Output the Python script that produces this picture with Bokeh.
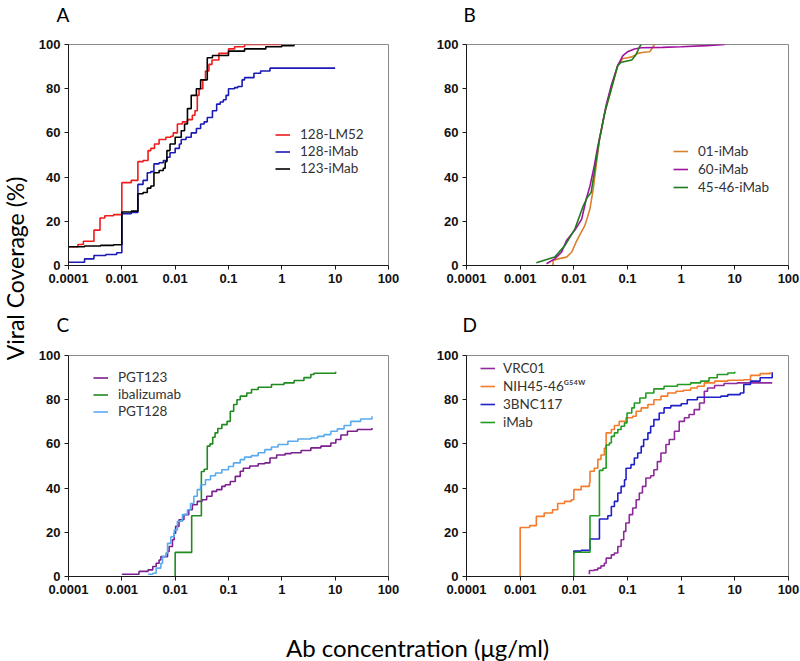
import math
from bokeh.plotting import figure
from bokeh.models import Range1d, FixedTicker, Label, Legend, LegendItem, Title
from bokeh.layouts import row, column
from bokeh.embed import file_html
from bokeh.resources import INLINE

# ---------------- axis ticks ----------------
x_ticks = [0.0001, 0.001, 0.01, 0.1, 1.0, 10.0, 100.0]
x_tick_labels = ["0.0001", "0.001", "0.01", "0.1", "1", "10", "100"]
y_ticks = [0, 20, 40, 60, 80, 100]

# ---------------- Panel A ----------------
a_names = ["128-LM52", "128-iMab", "123-iMab"]
a_lm52_x = [0.0001, 0.00015, 0.00019, 0.0003, 0.00039, 0.00048, 0.0007, 0.001, 0.0015, 0.002, 0.0025,
            0.0031, 0.0035, 0.0041, 0.005, 0.0067, 0.0083, 0.0092, 0.011, 0.0137, 0.017, 0.021, 0.0235,
            0.026, 0.028, 0.033, 0.037, 0.043, 0.049, 0.066, 0.1, 0.13, 0.2, 1.0]
a_lm52_y = [8.5, 9.5, 11, 16, 21.5, 22.5, 23, 37.5, 38.5, 47, 47.5, 52, 53, 55, 57, 58, 58.5, 60, 64,
            65, 66, 68, 70, 77, 80, 84, 88, 91, 93, 96, 98, 99, 100, 100]
a_128i_x = [0.0001, 0.0002, 0.0003, 0.0005, 0.0008, 0.001, 0.0015, 0.002, 0.0025, 0.003, 0.0035, 0.004,
            0.005, 0.006, 0.007, 0.008, 0.01, 0.012, 0.013, 0.016, 0.02, 0.025, 0.03, 0.035, 0.04, 0.05,
            0.06, 0.07, 0.08, 0.09, 0.1, 0.13, 0.15, 0.18, 0.2, 0.3, 0.4, 0.6, 10.0]
a_128i_y = [1.5, 3, 4.5, 5, 5.8, 23.4, 24, 36.7, 38.5, 42, 42.5, 46, 46.5, 47.5, 49, 51, 53, 55, 57, 58,
            60, 62, 64, 65, 67, 70, 73, 74, 75, 77, 80, 80.5, 81, 84, 85, 87, 88, 89.3, 89.3]
a_123i_x = [0.0001, 0.0002, 0.0004, 0.0007, 0.001, 0.0015, 0.002, 0.0025, 0.003, 0.0035, 0.004, 0.005,
            0.006, 0.0065, 0.007, 0.008, 0.01, 0.013, 0.015, 0.017, 0.02, 0.025, 0.03, 0.04, 0.05, 0.1,
            0.2, 0.5, 1.0, 1.7]
a_123i_y = [8.5, 8.8, 9.1, 9.4, 24.2, 24.6, 32.5, 33, 35, 36, 42, 43, 44, 47, 52, 55, 58, 61, 64, 71,
            77, 80, 84, 94, 95, 97, 98, 99, 99.5, 100]

# ---------------- Panel B ----------------
b_names = ["01-iMab", "60-iMab", "45-46-iMab"]
b_01_x = [0.0041, 0.0041, 0.0051, 0.0073, 0.0091, 0.011, 0.013, 0.016, 0.018, 0.02, 0.023, 0.026, 0.03,
          0.034, 0.038, 0.044, 0.05, 0.058, 0.066, 0.082, 0.1, 0.12, 0.156, 0.2, 0.26, 0.3, 0.32]
b_01_y = [0, 2.3, 3, 3.8, 6, 10.6, 14, 18, 22, 25.7, 34.7, 45, 57, 64, 69.5, 75, 80, 86, 90.6, 93.7,
          94, 94.4, 96, 96.5, 96.7, 99, 100]
b_60_x = [0.0031, 0.0044, 0.0059, 0.0073, 0.0104, 0.014, 0.017, 0.02, 0.024, 0.028, 0.033, 0.04, 0.05,
          0.066, 0.082, 0.1, 0.135, 0.18, 0.45, 1.0, 3.0, 6.5]
b_60_y = [0.8, 3, 6, 11.3, 15.9, 21, 30, 36, 45, 54, 62, 72.5, 81.6, 90.6, 95, 96.7, 98, 98.5, 98.7,
          99, 99.5, 100]
b_4546_x = [0.002, 0.0044, 0.0068, 0.0105, 0.015, 0.018, 0.021, 0.024, 0.03, 0.038, 0.05, 0.066, 0.077,
            0.12, 0.145, 0.168, 0.18]
b_4546_y = [1.2, 3.8, 9, 16.6, 27, 31, 33, 42, 57, 69.5, 80, 90.6, 92, 93, 95.5, 99, 100]

# ---------------- Panel C ----------------
c_names = ["PGT123", "ibalizumab", "PGT128"]
c_pgt123_x = [0.001, 0.002, 0.0021, 0.0031, 0.0038, 0.0044, 0.005, 0.0054, 0.0067, 0.0072, 0.0077,
              0.0089, 0.0096, 0.0102, 0.0118, 0.0146, 0.018, 0.021, 0.026, 0.032, 0.039, 0.049, 0.06,
              0.075, 0.087, 0.108, 0.134, 0.166, 0.19, 0.25, 0.36, 0.48, 0.6, 0.8, 1.15, 1.5, 2.3, 3.5,
              5.4, 8.3, 10.3, 12.8, 17, 26, 49]
c_pgt123_y = [1, 1, 2.3, 3, 4.5, 6, 7.5, 9, 9, 11.3, 13.6, 16.6, 19.6, 22.7, 25.7, 28, 30.2, 32.5, 34,
              34.7, 36.3, 38.5, 39.3, 40.8, 41.5, 43, 45.3, 47.6, 49, 50, 51, 51.4, 53.6, 55, 55.6, 56,
              57, 58.2, 59, 60.4, 62, 64, 65.7, 66.5, 67.2]
c_ibal_x = [0.01, 0.01, 0.0204, 0.031, 0.035, 0.04, 0.045, 0.0506, 0.056, 0.063, 0.075, 0.094, 0.108,
            0.125, 0.144, 0.166, 0.22, 0.27, 0.36, 0.64, 1.1, 1.7, 2.6, 3.5, 4.0, 10.2]
c_ibal_y = [0, 10.9, 27.5, 47.5, 48.5, 59, 60, 63, 65, 67, 68.7, 70.2, 74.8, 77.8, 80, 81.6, 83, 84.6,
            85.6, 86.9, 87.6, 88.7, 90, 91.4, 92, 92.6]
c_pgt128_x = [0.0031, 0.0038, 0.0044, 0.0054, 0.0058, 0.0067, 0.0072, 0.0083, 0.0096, 0.011, 0.0137,
              0.017, 0.0194, 0.0224, 0.026, 0.03, 0.037, 0.046, 0.057, 0.075, 0.1, 0.124, 0.166, 0.2,
              0.27, 0.36, 0.48, 0.64, 0.85, 1.3, 2.0, 3.5, 4.7, 6.2, 8.3, 11, 14.7, 19.6, 30, 49]
c_pgt128_y = [1, 1.5, 3.8, 6, 9, 10.6, 15, 18, 21, 25, 28, 30.2, 33, 36.3, 39.3, 41.5, 43.8, 45.6, 46.8,
              48.3, 49.8, 51.4, 52.9, 54, 54.7, 56, 57.4, 58.6, 59.7, 61.2, 62.2, 62.7, 63.4, 64.2, 65.7,
              66.8, 68.3, 70.2, 71.3, 72.5]

# ---------------- Panel D ----------------
d_names = ["VRC01", "NIH45-46\u1d33\u2075\u2074\u1d42", "3BNC117", "iMab"]
d_vrc01_x = [0.0195, 0.0195, 0.024, 0.028, 0.032, 0.037, 0.04, 0.05, 0.057, 0.066, 0.076, 0.085, 0.093,
             0.108, 0.125, 0.145, 0.166, 0.19, 0.22, 0.27, 0.31, 0.36, 0.42, 0.52, 0.6, 0.75, 0.92, 1.15,
             1.4, 1.75, 2.2, 2.7, 3.1, 4.2, 6.3, 11, 49.7]
d_vrc01_y = [1, 2.7, 3, 3.8, 4.8, 6, 8.3, 9.8, 10.6, 13.6, 16.6, 20.4, 24.2, 28, 31, 34.7, 37.8, 40.8,
             44.6, 45.6, 48.3, 52, 55.9, 59.7, 62, 65.7, 70.2, 71.8, 73.3, 75.5, 78.5, 83.8, 85.3, 86.4,
             87.3, 87.6, 87.6]
d_nih_x = [0.001, 0.001, 0.0015, 0.002, 0.0028, 0.004, 0.005, 0.0067, 0.009, 0.01, 0.0137, 0.0195, 0.02,
           0.024, 0.028, 0.032, 0.037, 0.04, 0.05, 0.057, 0.07, 0.094, 0.125, 0.145, 0.18, 0.24, 0.31,
           0.42, 0.56, 0.8, 1.1, 1.5, 2.0, 2.7, 4.2, 7.4, 14.7, 19.6, 29.6, 45.5]
d_nih_y = [0, 22.2, 23, 27.2, 28.7, 30.2, 33, 34, 34.7, 39.3, 40.8, 42.3, 47.6, 49, 53, 55, 58, 65, 66.5,
           68.3, 70.2, 71.8, 72.5, 74.8, 76.3, 77.8, 80, 81.6, 83, 83.8, 84.3, 85.3, 86.1, 87.6, 88.4,
           88.8, 89, 91, 91.8, 92.4]
d_3bnc_x = [0.01, 0.01, 0.0137, 0.0195, 0.02, 0.03, 0.043, 0.05, 0.057, 0.066, 0.076, 0.088, 0.094,
            0.116, 0.134, 0.155, 0.18, 0.2, 0.24, 0.27, 0.31, 0.39, 0.48, 0.64, 1.0, 1.3, 2.0, 3.1, 5.5,
            7.4, 12.6, 14.7, 19.6, 29.6, 49.7]
d_3bnc_y = [10, 11.5, 11.8, 12, 17, 26, 27.5, 31.7, 34, 37.8, 40.8, 43.8, 49, 50.6, 53.6, 55.9, 58.9, 62,
            65, 68, 71, 74, 76.3, 77.3, 78.2, 80, 81.1, 81.1, 81.6, 82.3, 83, 86.9, 88.4, 89.9, 92.4]
d_imab_x = [0.01, 0.01, 0.02, 0.03, 0.035, 0.04, 0.046, 0.05, 0.057, 0.066, 0.076, 0.088, 0.098, 0.12,
            0.134, 0.17, 0.22, 0.31, 0.48, 0.85, 1.5, 2.3, 3.3, 4.7, 7.4, 10.0]
d_imab_y = [0, 11, 27.5, 48, 49, 59.5, 60.4, 63.4, 65, 66.5, 68, 69.5, 74, 76.3, 78.5, 80.8, 83, 84.9,
            86.1, 86.9, 87.6, 88.4, 89.9, 91.4, 92.1, 92.6]

TICK_FONT = "Liberation Sans"
TEXT_FONT = "Lato"


def make_panel(letter, w, h, bl, br, bt, bb, curves, leg_xy, leg_row, leg_spacing, leg_standoff,
               letter_dx, spacer):
    p = figure(width=w, height=h, x_axis_type="log",
               x_range=Range1d(0.0001, 100), y_range=Range1d(0, 100),
               output_backend="svg", toolbar_location=None,
               min_border_left=bl, min_border_right=br, min_border_top=bt, min_border_bottom=bb)
    # panel letter as the (outermost) title, an empty spacer title between it and the frame
    p.title = Title(text=letter, align="left", offset=letter_dx, vertical_align="top",
                    standoff=0, text_font=TEXT_FONT, text_font_size="19px",
                    text_font_style="normal", text_color="#000000")
    p.add_layout(Title(text=" ", text_font_size="1px", standoff=spacer), "above")
    p.grid.visible = False
    p.outline_line_color = "#8a8a8a"
    p.outline_line_width = 1
    p.background_fill_color = "white"
    p.border_fill_color = "white"
    for ax in (p.xaxis[0], p.yaxis[0]):
        ax.axis_line_color = "#1a1a1a"
        ax.axis_line_width = 1
        ax.major_tick_line_color = "#1a1a1a"
        ax.major_tick_out = 4
        ax.major_tick_in = 0
        ax.minor_tick_out = 0
        ax.minor_tick_in = 0
        ax.major_label_text_font = TICK_FONT
        ax.major_label_text_font_style = "bold"
        ax.major_label_text_font_size = "13px"
        ax.major_label_text_color = "#111111"
        ax.major_label_standoff = 4
    p.xaxis[0].ticker = FixedTicker(ticks=x_ticks, minor_ticks=[])
    p.xaxis[0].major_label_overrides = {t: s for t, s in zip(x_ticks, x_tick_labels)}
    p.yaxis[0].ticker = FixedTicker(ticks=y_ticks, minor_ticks=[])

    items = []
    for name, xs, ys, color, kind in curves:
        if kind == "step":
            r = p.step(xs, ys, mode="after", line_color=color, line_width=1.6)
        else:
            r = p.line(xs, ys, line_color=color, line_width=1.6)
        items.append((name, r))
    leg = Legend(items=[LegendItem(label=n, renderers=[r]) for n, r in items],
                 location=leg_xy, glyph_width=15, glyph_height=leg_row, label_height=leg_row,
                 label_standoff=leg_standoff, spacing=leg_spacing, padding=0, margin=0,
                 label_text_font=TEXT_FONT, label_text_font_size="13.5px",
                 label_text_color="#333333", background_fill_alpha=0, border_line_color=None)
    p.add_layout(leg)
    return p


pA = make_panel("A", 370, 300, 35, 12, 44, 35,
                [(a_names[0], a_lm52_x, a_lm52_y, "#ee1c1c", "step"),
                 (a_names[1], a_128i_x, a_128i_y, "#1a1ab4", "step"),
                 (a_names[2], a_123i_x, a_123i_y, "#000000", "step")],
                (207, 89), 15, 1, 10, -12, 14)

pB = make_panel("B", 400, 300, 65, 12, 44, 35,
                [(b_names[0], b_01_x, b_01_y, "#d9822b", "line"),
                 (b_names[1], b_60_x, b_60_y, "#a0139f", "line"),
                 (b_names[2], b_4546_x, b_4546_y, "#1f7a1f", "line")],
                (207, 70), 16, 2, 10, -3, 14)

pC = make_panel("C", 370, 310, 38, 9, 55, 34,
                [(c_names[0], c_pgt123_x, c_pgt123_y, "#7b1f8e", "step"),
                 (c_names[1], c_ibal_x, c_ibal_y, "#1f8a1f", "step"),
                 (c_names[2], c_pgt128_x, c_pgt128_y, "#5aaaf0", "step")],
                (25, 157), 15, 1, 10, -12, 15)

pD = make_panel("D", 400, 310, 66, 12, 55, 34,
                [(d_names[0], d_vrc01_x, d_vrc01_y, "#8e2a9c", "step"),
                 (d_names[1], d_nih_x, d_nih_y, "#f47b2a", "step"),
                 (d_names[2], d_3bnc_x, d_3bnc_y, "#2020c8", "step"),
                 (d_names[3], d_imab_x, d_imab_y, "#239a23", "step")],
                (14, 146), 16, 2, 8, -4, 15)


def blank(w, h):
    f = figure(width=w, height=h, x_range=Range1d(0, 1), y_range=Range1d(0, 1),
               x_axis_location=None, y_axis_location=None,
               output_backend="svg", toolbar_location=None,
               min_border_left=0, min_border_right=0, min_border_top=0, min_border_bottom=0)
    f.grid.visible = False
    f.outline_line_color = None
    f.border_fill_color = "white"
    f.background_fill_color = "white"
    return f


ylab = blank(30, 610)
ylab.add_layout(Label(x=14, y=342, x_units="screen", y_units="screen", text="Viral Coverage (%)",
                      angle=math.pi / 2, text_font=TEXT_FONT, text_font_size="23px",
                      text_color="#000000", text_align="center", text_baseline="middle"))

xlab = blank(800, 51)
xlab.add_layout(Label(x=417, y=14, x_units="screen", y_units="screen", text="Ab concentration (\u03bcg/ml)",
                      text_font=TEXT_FONT, text_font_size="24px",
                      text_color="#000000", text_align="center", text_baseline="middle"))

layout = column(row(ylab, column(pA, pC), column(pB, pD)), xlab)

with open("out.html", "w") as fh:
    fh.write(file_html(layout, INLINE))
